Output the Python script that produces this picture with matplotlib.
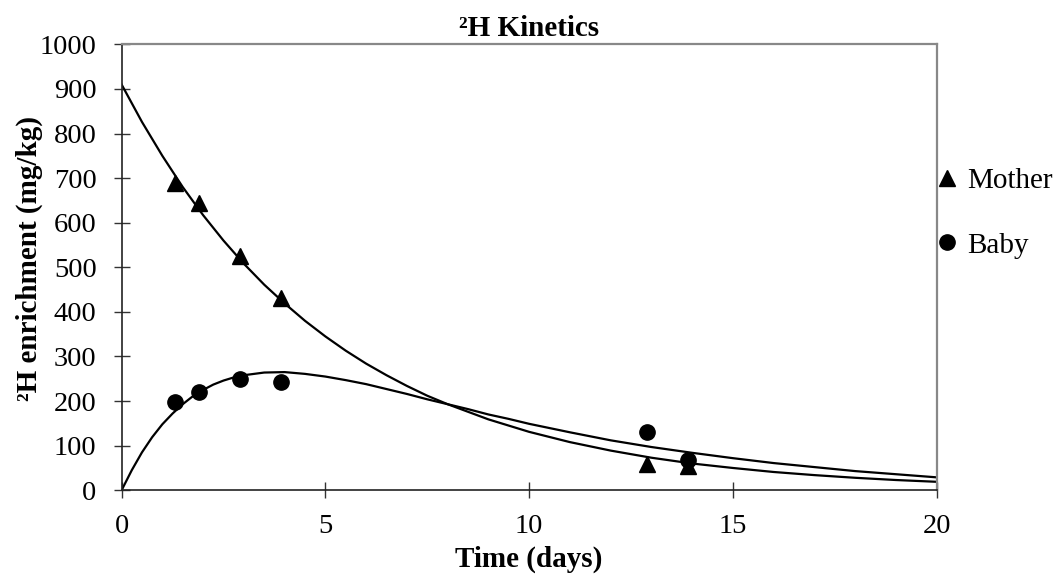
import matplotlib
matplotlib.use("Agg")
import matplotlib.pyplot as plt
from matplotlib.lines import Line2D

plt.rcParams['font.family'] = ['Liberation Serif', 'DejaVu Serif']

# Measured data points
time_days = [1.3, 1.9, 2.9, 3.9, 12.9, 13.9]
mother_vals = [690, 645, 525, 432, 60, 55]
baby_vals = [197, 220, 250, 242, 130, 68]

# Fitted curves
mother_curve_t = [0, 0.5, 1, 1.5, 2, 2.5, 3, 3.5, 4, 4.5, 5, 5.5, 6, 6.5, 7, 7.5, 8,
                  9, 10, 11, 12, 13, 14, 15, 16, 17, 18, 19, 20]
mother_curve_v = [910, 826, 750, 680, 617, 560, 508, 461, 419, 380, 345, 313, 284, 258, 234, 212, 193,
                  159, 131, 108, 89, 73, 60, 50, 41, 34, 28, 23, 19]
baby_curve_t = [0, 0.25, 0.5, 0.75, 1, 1.25, 1.5, 1.75, 2, 2.25, 2.5, 2.75, 3, 3.5, 4, 4.5,
                5, 5.5, 6, 6.5, 7, 7.5, 8, 8.5, 9, 9.5, 10,
                11, 12, 13, 14, 15, 16, 17, 18, 19, 20]
baby_curve_v = [0, 45, 85, 119, 148, 172, 193, 211, 225, 237, 246, 253, 258, 264, 265, 261,
                255, 247, 238, 227, 216, 204, 193, 182, 170, 160, 149,
                130, 112, 97, 84, 72, 61, 52, 43, 36, 29]

x_ticks = [0, 5, 10, 15, 20]
y_ticks = [0, 100, 200, 300, 400, 500, 600, 700, 800, 900, 1000]

FS = 21

fig = plt.figure(figsize=(10.6, 5.77), dpi=100)
ax = fig.add_axes([0.1147, 0.1503, 0.7690, 0.7729])

ax.plot(mother_curve_t, mother_curve_v, color='black', lw=1.6, zorder=2)
ax.plot(baby_curve_t, baby_curve_v, color='black', lw=1.6, zorder=2)
ax.plot(time_days, mother_vals, linestyle='none', marker='^', markersize=11,
        color='black', zorder=3, clip_on=False)
ax.plot(time_days, baby_vals, linestyle='none', marker='o', markersize=11,
        color='black', zorder=3, clip_on=False)

ax.set_xlim(0, 20)
ax.set_ylim(0, 1000)
ax.set_xticks(x_ticks)
ax.set_yticks(y_ticks)
ax.tick_params(axis='both', direction='inout', length=12, width=1.0,
               color='#333333', labelsize=20.5)
ax.tick_params(axis='y', pad=12)
ax.tick_params(axis='x', pad=11)

for s in ['left', 'bottom']:
    ax.spines[s].set_color('#222222')
    ax.spines[s].set_linewidth(1.2)
for s in ['top', 'right']:
    ax.spines[s].set_color('#888888')
    ax.spines[s].set_linewidth(1.6)

ax.set_title('\u00b2H Kinetics', fontsize=FS, fontweight='bold', pad=6)
ax.set_xlabel('Time (days)', fontsize=FS, fontweight='bold', labelpad=5)
ax.set_ylabel('\u00b2H enrichment (mg/kg)', fontsize=FS, fontweight='bold')
ax.yaxis.set_label_coords(-0.097, 0.52)

handles = [Line2D([], [], linestyle='none', marker='^', markersize=11, color='black'),
           Line2D([], [], linestyle='none', marker='o', markersize=11, color='black')]
ax.legend(handles, ['Mother', 'Baby'], loc='upper left', bbox_to_anchor=(0.9925, 0.736),
          frameon=False, fontsize=FS, handlelength=0.7, handletextpad=0.35,
          labelspacing=1.3, borderaxespad=0.0, borderpad=0.2)

fig.savefig('out.png', dpi=100)
